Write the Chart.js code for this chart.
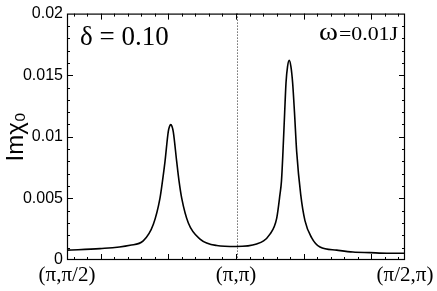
<!DOCTYPE html>
<html>
<head>
<meta charset="utf-8">
<script src="https://cdn.jsdelivr.net/npm/chart.js@4.4.1/dist/chart.umd.min.js"></script>
<style>
  html, body { margin: 0; padding: 0; background: #fff; }
  canvas { display: block; }
</style>
</head>
<body>
<canvas id="chiChart" width="437" height="291"></canvas>
<script>
// path coordinate along (pi,pi/2) -> (pi,pi) -> (pi/2,pi)
const pathPos = [
  0.000, 0.195, 0.373, 0.451, 0.511, 0.550, 0.565, 0.580, 0.599, 0.607, 0.614, 0.621, 0.629,
  0.649, 0.663, 0.679, 0.718, 0.787, 0.886, 1.000, 1.122, 1.201, 1.241, 1.260, 1.269, 1.278,
  1.288, 1.296, 1.305, 1.315, 1.325, 1.335, 1.346, 1.359, 1.383, 1.408, 1.448, 1.497,
  1.596, 1.692, 1.793, 1.893, 2.000
];
const imChi0 = [
  0.00080, 0.00092, 0.00120, 0.00155, 0.00290, 0.00500, 0.00640, 0.00800, 0.01040, 0.01085, 0.01100, 0.01085, 0.01040,
  0.00800, 0.00640, 0.00500, 0.00300, 0.00170, 0.00118, 0.00110, 0.00130, 0.00210, 0.00340, 0.00530, 0.00640, 0.00880,
  0.01200, 0.01440, 0.01570, 0.01620, 0.01570, 0.01440, 0.01200, 0.00880, 0.00530, 0.00320, 0.00180, 0.00105,
  0.00080, 0.00065, 0.00060, 0.00055, 0.00055
];
const xTickPos = [0, 1, 2];
const xTickLabels = ['(\u03c0,\u03c0/2)', '(\u03c0,\u03c0)', '(\u03c0/2,\u03c0)'];
const yTickPos = [0, 0.005, 0.01, 0.015, 0.02];
const yTickLabels = ['0', '0.005', '0.01', '0.015', '0.02'];

// text drawn a little wider than the font, like the original
function wideText(ctx, text, x, y, sx) {
  ctx.save();
  ctx.translate(x, y);
  ctx.scale(sx, 1);
  ctx.fillText(text, 0, 0);
  ctx.restore();
}

const framePlugin = {
  id: 'frame',
  beforeDatasetsDraw(chart) {
    const { ctx, chartArea: { top, bottom }, scales: { x } } = chart;
    const px = Math.round(x.getPixelForValue(1)) + 1.5;
    ctx.save();
    ctx.strokeStyle = '#222';
    ctx.lineWidth = 1;
    ctx.setLineDash([1, 2]);
    ctx.beginPath();
    ctx.moveTo(px, top);
    ctx.lineTo(px, bottom);
    ctx.stroke();
    ctx.restore();
  },
  afterDraw(chart) {
    const { ctx, chartArea: { left, right, top, bottom }, scales: { x, y } } = chart;
    ctx.save();
    ctx.strokeStyle = '#000';
    ctx.lineWidth = 1.2;
    ctx.strokeRect(left + 0.5, top + 0.5, right - left - 1, bottom - top - 1);

    ctx.lineWidth = 1;
    ctx.beginPath();
    // x ticks: major every 0.4 from 0.2, minor every 0.08
    for (let k = 0; k * 0.08 + 0.04 < 2; k++) {
      const v = 0.04 + k * 0.08;
      const len = (k % 5 === 2) ? 6 : 3;
      const px = Math.round(x.getPixelForValue(v)) + 0.5;
      ctx.moveTo(px, bottom); ctx.lineTo(px, bottom - len);
      ctx.moveTo(px, top); ctx.lineTo(px, top + len);
    }
    // y ticks: major every 0.005, minor every 0.001
    for (let k = 1; k < 20; k++) {
      const v = k * 0.001;
      const len = (k % 5 === 0) ? 6 : 3;
      const py = Math.round(y.getPixelForValue(v)) + 0.5;
      ctx.moveTo(left, py); ctx.lineTo(left + len, py);
      ctx.moveTo(right, py); ctx.lineTo(right - len, py);
    }
    ctx.stroke();

    // annotations
    ctx.fillStyle = '#000';
    ctx.textBaseline = 'alphabetic';
    ctx.font = '27px "Liberation Serif"';
    ctx.fillText('\u03b4 = 0.10', left + 13, top + 31);

    const sx = 1.15;
    ctx.font = '19px "Liberation Serif"';
    const w = ctx.measureText('=0.01J').width * sx;
    wideText(ctx, '=0.01J', right - 7 - w, top + 26, sx);
    ctx.font = '25px "Liberation Serif"';
    const wo = ctx.measureText('\u03c9').width * sx;
    wideText(ctx, '\u03c9', right - 8 - w - wo, top + 26, sx);
    ctx.restore();
  }
};

const ctx = document.getElementById('chiChart').getContext('2d');
new Chart(ctx, {
  type: 'line',
  data: {
    datasets: [{
      label: 'Im chi0',
      data: pathPos.map((p, i) => ({ x: p, y: imChi0[i] })),
      borderColor: '#000',
      borderWidth: 1.6,
      pointRadius: 0,
      fill: false,
      cubicInterpolationMode: 'monotone',
    }]
  },
  options: {
    responsive: false,
    animation: false,
    devicePixelRatio: 1,
    layout: { padding: { top: 9, right: 32, left: 0, bottom: 0 } },
    plugins: {
      legend: { display: false },
      tooltip: { enabled: false },
    },
    scales: {
      x: {
        type: 'linear',
        min: 0,
        max: 2,
        grid: { display: false, drawTicks: false },
        border: { display: false },
        afterBuildTicks: (axis) => { axis.ticks = xTickPos.map(v => ({ value: v })); },
        afterFit: (axis) => { axis.height = 31; },
        ticks: {
          autoSkip: false,
          maxRotation: 0,
          padding: 3,
          color: '#000',
          font: { family: 'Liberation Serif', size: 21 },
          callback: (v, i) => xTickLabels[i],
        }
      },
      y: {
        min: 0,
        max: 0.02,
        grid: { display: false, drawTicks: false },
        border: { display: false },
        afterBuildTicks: (axis) => { axis.ticks = yTickPos.map(v => ({ value: v })); },
        afterFit: (axis) => { axis.width = 67; },
        title: {
          display: true,
          text: 'Im\u03c7\u2080',
          color: '#000',
          font: { family: 'Liberation Sans', size: 24 },
          padding: { top: 2, bottom: 0 },
        },
        ticks: {
          padding: 4,
          color: '#000',
          font: { family: 'Liberation Sans', size: 16 },
          callback: (v, i) => yTickLabels[i],
        }
      }
    }
  },
  plugins: [framePlugin]
});
</script>
</body>
</html>
